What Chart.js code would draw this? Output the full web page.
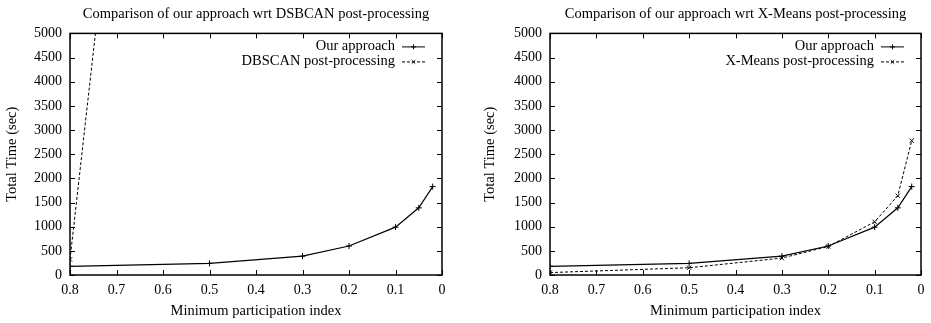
<!DOCTYPE html>
<html>
<head>
<meta charset="utf-8">
<title>Total time vs minimum participation index</title>
<script src="https://cdn.jsdelivr.net/npm/chart.js@4/dist/chart.umd.min.js"></script>
<style>
  body { margin: 0; background: #fff; }
  #wrap { display: flex; width: 931px; height: 323px; }
  canvas { display: block; }
</style>
</head>
<body>
<div id="wrap">
  <canvas id="dbscanChart" width="465" height="323"></canvas>
  <canvas id="xmeansChart" width="466" height="323"></canvas>
</div>
<script>
// minimum participation index values (x axis)
const mpi = [0.8, 0.5, 0.3, 0.2, 0.1, 0.05, 0.02];
const xTicks = [0, 0.1, 0.2, 0.3, 0.4, 0.5, 0.6, 0.7, 0.8];

// total time in seconds
const ourApproach = [180, 240, 390, 600, 990, 1390, 1830];
const dbscanMpi = [0.8, 0.5];
const dbscanPost = [320, 26000];
const xmeansPost = [50, 150, 350, 590, 1100, 1640, 2780];

Chart.defaults.font.family = "'Liberation Serif', 'DejaVu Serif', serif";
Chart.defaults.font.size = 14;
Chart.defaults.color = '#000';

function pts(xs, ys) {
    return xs.map((x, i) => ({ x: x, y: ys[i] }));
}

// gnuplot-like frame: box around the plot with tick marks pointing inwards on all sides
const framePlugin = {
    id: 'frame',
    afterDatasetsDraw(chart) {
        const { ctx, chartArea: a, scales } = chart;
        ctx.save();
        ctx.strokeStyle = '#000';
        ctx.lineWidth = 1;
        ctx.beginPath();
        scales.x.ticks.forEach(t => {
            const px = Math.round(scales.x.getPixelForValue(t.value)) + 0.5;
            ctx.moveTo(px, a.bottom); ctx.lineTo(px, a.bottom - 5);
            ctx.moveTo(px, a.top); ctx.lineTo(px, a.top + 5);
        });
        scales.y.ticks.forEach(t => {
            const py = Math.round(scales.y.getPixelForValue(t.value)) + 0.5;
            ctx.moveTo(a.left, py); ctx.lineTo(a.left + 5, py);
            ctx.moveTo(a.right, py); ctx.lineTo(a.right - 5, py);
        });
        ctx.stroke();
        ctx.lineWidth = 1.5;
        ctx.strokeRect(a.left, a.top, a.right - a.left, a.bottom - a.top);
        ctx.restore();
    }
};

// key in the top right corner: label, then a line sample with the point symbol
const keyPlugin = {
    id: 'key',
    afterDraw(chart) {
        const { ctx, chartArea: a } = chart;
        ctx.save();
        ctx.font = "14.5px 'Liberation Serif', serif";
        ctx.textAlign = 'right';
        ctx.textBaseline = 'middle';
        chart.data.datasets.forEach((ds, i) => {
            const y = a.top + 13 + i * 15;
            const x0 = a.right - 40, x1 = a.right - 17;
            ctx.fillStyle = '#000';
            ctx.fillText(ds.label, a.right - 47, y);
            ctx.strokeStyle = '#000';
            ctx.lineWidth = 1;
            ctx.setLineDash(ds.borderDash || []);
            ctx.beginPath();
            ctx.moveTo(x0, y + 0.5);
            ctx.lineTo(x1, y + 0.5);
            ctx.stroke();
            ctx.setLineDash([]);
            Chart.helpers.drawPoint(ctx, {
                pointStyle: ds.pointStyle, radius: 2.5, borderWidth: 1, rotation: 0
            }, (x0 + x1) / 2, y + 0.5);
        });
        ctx.restore();
    }
};

function makeChart(id, title, other, yWidth, yTitlePad, rightPad) {
    const ctx = document.getElementById(id).getContext('2d');
    return new Chart(ctx, {
        type: 'line',
        data: {
            datasets: [
                {
                    label: 'Our approach',
                    data: pts(mpi, ourApproach),
                    borderColor: '#000',
                    backgroundColor: '#000',
                    borderWidth: 1.2,
                    pointStyle: 'cross',
                    pointRadius: 3,
                    pointBorderWidth: 1,
                    tension: 0
                },
                Object.assign({
                    borderColor: '#000',
                    backgroundColor: '#000',
                    borderWidth: 1,
                    borderDash: [3, 2],
                    pointStyle: 'crossRot',
                    pointRadius: 3,
                    pointBorderWidth: 1,
                    tension: 0
                }, other)
            ]
        },
        options: {
            responsive: false,
            animation: false,
            layout: { padding: { left: 0, right: rightPad, top: 0, bottom: 0 } },
            scales: {
                x: {
                    type: 'linear',
                    reverse: true,
                    min: 0,
                    max: 0.8,
                    afterBuildTicks: s => { s.ticks = xTicks.map(v => ({ value: v })); },
                    afterFit: s => { s.height = 48; },
                    grid: { display: false, drawTicks: false },
                    border: { display: false },
                    ticks: {
                        padding: 7,
                        maxRotation: 0,
                        callback: v => String(Number(v.toFixed(1)))
                    },
                    title: {
                        display: true,
                        text: 'Minimum participation index',
                        font: { size: 14.5 },
                        padding: { top: 0, bottom: 3 }
                    }
                },
                y: {
                    min: 0,
                    max: 5000,
                    afterFit: s => { s.width = yWidth; },
                    grid: { display: false, drawTicks: false },
                    border: { display: false },
                    ticks: { stepSize: 500, padding: 8, callback: v => String(v) },
                    title: {
                        display: true,
                        text: 'Total Time (sec)',
                        font: { size: 14.5 },
                        padding: { top: yTitlePad, bottom: 0 }
                    }
                }
            },
            plugins: {
                legend: { display: false },
                tooltip: { enabled: false },
                title: {
                    display: true,
                    fullSize: false,
                    text: title,
                    font: { size: 14.5, weight: 'normal' },
                    padding: { top: 5, bottom: 11 }
                }
            }
        },
        plugins: [framePlugin, keyPlugin]
    });
}

makeChart('dbscanChart', 'Comparison of our approach wrt DSBCAN post-processing', {
    label: 'DBSCAN post-processing',
    data: pts(dbscanMpi, dbscanPost)
}, 70, 3, 23);

makeChart('xmeansChart', 'Comparison of our approach wrt X-Means post-processing', {
    label: 'X-Means post-processing',
    data: pts(mpi, xmeansPost)
}, 85, 16, 10);
</script>
</body>
</html>
